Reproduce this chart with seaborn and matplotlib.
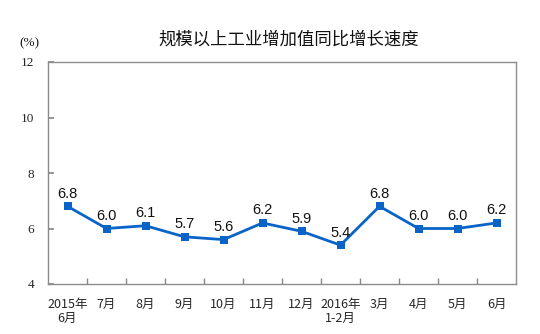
import matplotlib
matplotlib.use("Agg")
import matplotlib.pyplot as plt
import seaborn as sns
import pandas as pd
import numpy as np

months = ["2015年\n6月", "7月", "8月", "9月", "10月", "11月", "12月",
          "2016年\n1-2月", "3月", "4月", "5月", "6月"]
growth = [6.8, 6.0, 6.1, 5.7, 5.6, 6.2, 5.9, 5.4, 6.8, 6.0, 6.0, 6.2]
y_ticks = [4, 6, 8, 10, 12]

sns.set_theme(style="white")
plt.rcParams["font.family"] = ["Noto Sans CJK SC", "DejaVu Sans"]

df = pd.DataFrame({"pos": np.arange(len(months)), "growth": growth})

fig = plt.figure(figsize=(5.4, 3.34), dpi=100)
ax = fig.add_axes([48 / 540, 1 - 284 / 334, (516 - 48) / 540, (284 - 62) / 334])

line_color = "#0A64C8"
sns.lineplot(data=df, x="pos", y="growth", ax=ax, color=line_color,
             linewidth=2, marker="s", markersize=6, markeredgewidth=0)

# value labels just above each point
for x, v in zip(df["pos"], df["growth"]):
    ax.annotate(f"{v:.1f}", (x, v), xytext=(0, 4), textcoords="offset points",
                ha="center", va="bottom", fontsize=10.5, color="#111111",
                family=["Liberation Sans", "DejaVu Sans"])

ax.set_xlim(-0.5, len(months) - 0.5)
ax.set_ylim(4, 12)
ax.set_yticks(y_ticks)
ax.set_yticklabels([str(t) for t in y_ticks], family=["Liberation Serif"], fontsize=9.5)
ax.set_xticks(df["pos"])
ax.set_xticklabels(months, fontsize=9, linespacing=1.15)
ax.set_xticks(np.arange(0.5, len(months) - 0.5, 1), minor=True)
ax.tick_params(axis="x", which="major", length=0, pad=10)
ax.tick_params(axis="x", which="minor", direction="in", length=4, color="#888888", bottom=True)
ax.tick_params(axis="y", direction="in", length=4, color="#888888", left=True, pad=10)
ax.set_xlabel("")
ax.set_ylabel("")
for s in ax.spines.values():
    s.set_color("#8C8C8C")
    s.set_linewidth(1)
ax.grid(False)

fig.text(289 / 540, 1 - 40 / 334, "规模以上工业增加值同比增长速度", ha="center", va="center",
         fontsize=12.5, color="#111111")
fig.text(29 / 540, 1 - 43 / 334, "(%)", ha="center", va="center", fontsize=9.5,
         family=["Liberation Serif"], color="#111111")

fig.savefig("out.png", dpi=100)
